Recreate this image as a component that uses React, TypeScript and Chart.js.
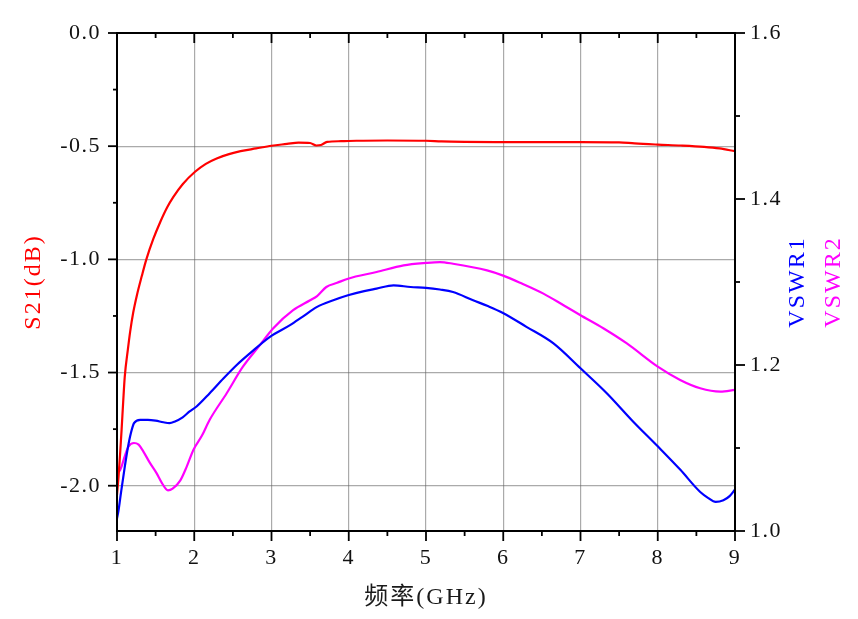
import React, { useRef, useEffect } from 'react';
import { Chart, registerables } from 'chart.js';

Chart.register(...registerables);

// axis ticks
const xTicks = [1, 2, 3, 4, 5, 6, 7, 8, 9];
const s21Ticks = [-2.0, -1.5, -1.0, -0.5, 0.0];
const vswrTicks = [1.0, 1.2, 1.4, 1.6];

// S21 (dB), left axis
const s21Freq = [
  1.0, 1.02, 1.04, 1.06, 1.08, 1.1, 1.14, 1.17, 1.21, 1.26, 1.32, 1.38, 1.47, 1.56, 1.65, 1.73,
  1.85, 2.01, 2.15, 2.29, 2.45, 2.6, 2.8, 3.0, 3.2, 3.35, 3.5, 3.58, 3.64, 3.72, 3.9, 4.1, 4.5,
  5.0, 5.2, 5.5, 5.9, 6.5, 7.0, 7.5, 7.7, 8.0, 8.3, 8.6, 8.8, 9.0,
];
const s21Values = [
  -2.04, -1.96, -1.86, -1.75, -1.63, -1.52, -1.4, -1.32, -1.235, -1.155, -1.075, -1.0, -0.91,
  -0.835, -0.77, -0.724, -0.668, -0.613, -0.578, -0.554, -0.535, -0.522, -0.51, -0.498, -0.49,
  -0.484, -0.486, -0.497, -0.495, -0.481, -0.478, -0.476, -0.475, -0.476, -0.479, -0.481, -0.482,
  -0.482, -0.482, -0.483, -0.488, -0.493, -0.497, -0.503, -0.51, -0.522,
];

// VSWR1, right axis
const vswr1Freq = [
  1.0, 1.02, 1.05, 1.1, 1.14, 1.18, 1.22, 1.3, 1.4, 1.5, 1.6, 1.68, 1.75, 1.85, 1.94, 2.03, 2.2,
  2.38, 2.55, 2.72, 2.98, 3.24, 3.4, 3.59, 3.8, 3.99, 4.2, 4.36, 4.58, 4.8, 5.0, 5.18, 5.35, 5.61,
  5.8, 5.99, 6.3, 6.65, 7.0, 7.34, 7.68, 8.0, 8.29, 8.55, 8.65, 8.75, 8.85, 8.93, 9.0,
];
const vswr1Values = [
  1.015, 1.025, 1.045, 1.077, 1.1, 1.118, 1.13, 1.134, 1.134, 1.133, 1.131, 1.13, 1.132, 1.137,
  1.144, 1.15, 1.166, 1.184, 1.2, 1.214, 1.234, 1.248, 1.258, 1.27, 1.278, 1.284, 1.289, 1.292,
  1.296, 1.294, 1.293, 1.291, 1.288, 1.278, 1.271, 1.263, 1.246, 1.226, 1.196, 1.166, 1.132,
  1.102, 1.074, 1.047, 1.04, 1.035, 1.037, 1.042, 1.05,
];

// VSWR2, right axis
const vswr2Freq = [
  1.0, 1.03, 1.06, 1.1, 1.15, 1.22, 1.28, 1.34, 1.42, 1.51, 1.58, 1.66, 1.72, 1.82, 1.9, 1.99,
  2.1, 2.2, 2.42, 2.63, 2.85, 3.02, 3.28, 3.5, 3.59, 3.71, 3.85, 3.99, 4.36, 4.71, 5.0, 5.18, 5.35,
  5.79, 5.99, 6.22, 6.52, 6.78, 7.0, 7.3, 7.6, 8.0, 8.29, 8.55, 8.81, 9.0,
];
const vswr2Values = [
  1.078, 1.072, 1.078, 1.09, 1.102, 1.106, 1.104, 1.096, 1.083, 1.07, 1.058, 1.049, 1.051, 1.061,
  1.077, 1.098, 1.115, 1.134, 1.166, 1.198, 1.224, 1.244, 1.266, 1.278, 1.283, 1.294, 1.299,
  1.304, 1.312, 1.32, 1.323, 1.324, 1.322, 1.314, 1.308, 1.299, 1.286, 1.272, 1.26, 1.244, 1.226,
  1.198, 1.182, 1.172, 1.168, 1.17,
];

const serif = '"Liberation Serif", "Times New Roman", "Noto Sans CJK SC", serif';

const toPoints = (xs: number[], ys: number[]) => xs.map((x, i) => ({ x, y: ys[i] }));
const midpoints = (t: number[]) => t.slice(1).map((v, i) => (v + t[i]) / 2);

// spaced-out text like the original export
const spacingPlugin = {
  id: 'spacing',
  beforeDraw(chart: any) {
    chart.ctx.letterSpacing = '1.5px';
  },
};

// black box, inner/outer tick marks and the axis titles
const framePlugin = {
  id: 'frame',
  afterDatasetsDraw(chart: any) {
    const { ctx, chartArea: a, scales } = chart;
    const seg = (x1: number, y1: number, x2: number, y2: number) => {
      ctx.beginPath();
      ctx.moveTo(x1, y1);
      ctx.lineTo(x2, y2);
      ctx.stroke();
    };
    ctx.save();
    ctx.strokeStyle = '#000';
    ctx.lineWidth = 2;
    ctx.strokeRect(a.left, a.top, a.right - a.left, a.bottom - a.top);
    ctx.lineWidth = 1.8;
    xTicks.forEach((v) => {
      const px = scales.x.getPixelForValue(v);
      seg(px, a.bottom, px, a.bottom + 10);
      seg(px, a.top, px, a.top + 10);
    });
    midpoints(xTicks).forEach((v) => {
      const px = scales.x.getPixelForValue(v);
      seg(px, a.bottom, px, a.bottom + 5);
      seg(px, a.top, px, a.top + 5);
    });
    s21Ticks.forEach((v) => {
      const py = scales.y.getPixelForValue(v);
      seg(a.left - 9, py, a.left, py);
    });
    midpoints(s21Ticks).forEach((v) => {
      const py = scales.y.getPixelForValue(v);
      seg(a.left - 4, py, a.left, py);
    });
    vswrTicks.forEach((v) => {
      const py = scales.y1.getPixelForValue(v);
      seg(a.right, py, a.right + 10, py);
    });
    midpoints(vswrTicks).forEach((v) => {
      const py = scales.y1.getPixelForValue(v);
      seg(a.right, py, a.right + 5, py);
    });

    ctx.letterSpacing = '2px';
    ctx.font = `24px ${serif}`;
    ctx.textAlign = 'center';
    ctx.textBaseline = 'middle';
    const midY = (a.top + a.bottom) / 2;
    const vText = (text: string, x: number, color: string) => {
      ctx.save();
      ctx.translate(x, midY);
      ctx.rotate(-Math.PI / 2);
      ctx.fillStyle = color;
      ctx.fillText(text, 0, 0);
      ctx.restore();
    };
    vText('S21(dB)', 34, '#ff0000');
    vText('VSWR1', a.right + 63, '#0000ff');
    vText('VSWR2', a.right + 99, '#ff00ff');
    ctx.fillStyle = '#1a1a1a';
    ctx.fillText('频率(GHz)', (a.left + a.right) / 2, a.bottom + 67);
    ctx.restore();
  },
};

const App: React.FC = () => {
  const canvasRef = useRef<HTMLCanvasElement | null>(null);

  useEffect(() => {
    if (!canvasRef.current) return;
    const gridColor = 'rgba(100,100,100,0.55)';
    const tickFont = { family: serif, size: 22 };
    const line = (label: string, data: any, color: string, axis: string) => ({
      label,
      data,
      yAxisID: axis,
      borderColor: color,
      backgroundColor: color,
      borderWidth: 2.2,
      pointRadius: 0,
      cubicInterpolationMode: 'monotone' as const,
      fill: false,
    });

    const chart = new Chart(canvasRef.current, {
      type: 'line',
      data: {
        datasets: [
          line('S21(dB)', toPoints(s21Freq, s21Values), '#ff0000', 'y'),
          line('VSWR1', toPoints(vswr1Freq, vswr1Values), '#0000ff', 'y1'),
          line('VSWR2', toPoints(vswr2Freq, vswr2Values), '#ff00ff', 'y1'),
        ],
      },
      options: {
        animation: false,
        responsive: true,
        maintainAspectRatio: false,
        layout: { padding: { top: 33, left: 0, right: 0, bottom: 0 } },
        plugins: {
          legend: { display: false },
          tooltip: { enabled: false },
        },
        scales: {
          x: {
            type: 'linear',
            min: 1,
            max: 9,
            afterBuildTicks: (s: any) => {
              s.ticks = xTicks.map((v) => ({ value: v }));
            },
            afterFit: (s: any) => {
              s.height = 88;
            },
            grid: { color: gridColor, lineWidth: 1.2, drawTicks: false },
            border: { display: false },
            ticks: {
              padding: 14,
              color: '#111',
              font: tickFont,
              maxRotation: 0,
              callback: (v: any) => String(v),
            },
          },
          y: {
            type: 'linear',
            position: 'left',
            min: -2.2,
            max: 0,
            afterBuildTicks: (s: any) => {
              s.ticks = s21Ticks.map((v) => ({ value: v }));
            },
            afterFit: (s: any) => {
              s.width = 117;
            },
            grid: { color: gridColor, lineWidth: 1.2, drawTicks: false },
            border: { display: false },
            ticks: {
              padding: 16,
              color: '#111',
              font: tickFont,
              callback: (v: any) => Number(v).toFixed(1),
            },
          },
          y1: {
            type: 'linear',
            position: 'right',
            min: 1.0,
            max: 1.6,
            afterBuildTicks: (s: any) => {
              s.ticks = vswrTicks.map((v) => ({ value: v }));
            },
            afterFit: (s: any) => {
              s.width = 123;
            },
            grid: { display: false, drawTicks: false },
            border: { display: false },
            ticks: {
              padding: 15,
              color: '#111',
              font: tickFont,
              callback: (v: any) => Number(v).toFixed(1),
            },
          },
        },
      },
      plugins: [spacingPlugin, framePlugin],
    });

    return () => {
      chart.destroy();
    };
  }, []);

  return (
    <div style={{ position: 'absolute', left: 0, top: 0, width: 858, height: 619, background: '#fff' }}>
      <canvas ref={canvasRef}></canvas>
    </div>
  );
};

export default App;
